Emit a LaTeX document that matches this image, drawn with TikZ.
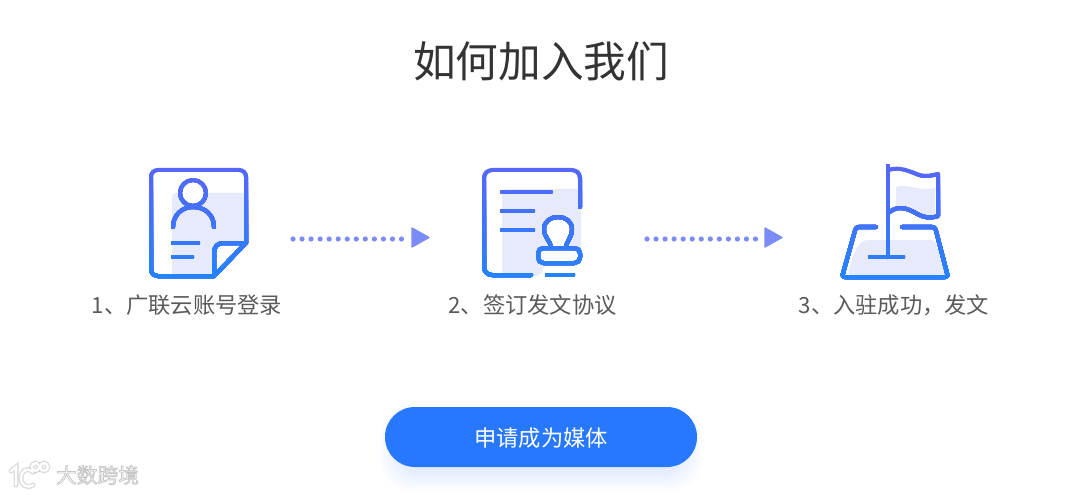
\documentclass[tikz,border=0pt]{standalone}
\usepackage{fontspec}
\setmainfont{Noto Sans CJK SC}
\definecolor{gradtop}{HTML}{5766F7}
\definecolor{gradbot}{HTML}{1F86FF}
\definecolor{softfill}{HTML}{E6EAFB}
\definecolor{dotblue}{HTML}{7B8CF6}
\definecolor{btnblue}{HTML}{2878FF}
\definecolor{labelgray}{HTML}{5A5A5A}
\definecolor{titlegray}{HTML}{333333}
\tikzset{
  x=0.75pt,y=-0.75pt,
  iconline/.style={line width=3pt,line cap=round,line join=round},
  softshape/.style={fill=softfill,draw=none},
  dotline/.style={dotblue,line width=3.9pt,line cap=round,dash pattern=on 0pt off 6.78pt},
  tiphead/.style={fill=dotblue,draw=dotblue,line width=1pt,line join=round},
  steplabel/.style={text=labelgray,font=\fontsize{16.7pt}{19pt}\selectfont,inner sep=0pt,anchor=center},
}
% paints the strokes of an icon with a top-to-bottom gradient, band over band
\newcommand{\gradstrokes}[1]{%
  \foreach \bandno in {0,...,19}{%
    \pgfmathsetmacro{\bandy}{165+\bandno*6}%
    \pgfmathsetmacro{\bandp}{100-\bandno*5}%
    \begin{scope}
      \clip (20,\bandy) rectangle (1000,290);
      \colorlet{bandcol}{gradtop!\bandp!gradbot}
      \begin{scope}[iconline,draw=bandcol]#1\end{scope}
    \end{scope}%
  }%
}
\begin{document}
\begin{tikzpicture}
\useasboundingbox (0,0) rectangle (1080,495);
\fill[white] (0,0) rectangle (1080,495);

\node[text=titlegray,font=\fontsize{32pt}{36pt}\selectfont,inner sep=0pt] (title) at (541,61) {如何加入我们};

% ---------- icon 1
\fill[softshape,rounded corners=3pt] (172,276) -- (172,193) -- (247,193) -- (247,243) -- (214,276) -- cycle;
\fill[white] (247,243) -- (222,243) .. controls (216,243) and (214,247) .. (214,252) -- (214,276) -- cycle;
\fill[white] (193,193) circle (13);
\gradstrokes{
  \draw[rounded corners=5pt] (214,276) -- (151,276) -- (151,170) -- (246,170) -- (246,243);
  \draw (246,243) -- (214,276);
  \draw (246,243) -- (224,243) .. controls (217,243) and (214,247) .. (214,253) -- (214,276);
  \draw (193,193) circle (13);
  \draw (173,227) .. controls (173,215) and (182,207) .. (193,207) .. controls (205,207) and (214,215) .. (214,227);
  \draw (173,243) -- (198,243);
  \draw (173,257) -- (192,257);
}

% ---------- icon 2
\fill[softshape,rounded corners=3pt] (502,276) -- (502,189) -- (581,189) -- (581,262) -- (546,262) -- (540,276) -- cycle;
\fill[white] (551,248) .. controls (551,241) and (544,238) .. (544,229) .. controls (544,221) and (551,217) .. (558,217) .. controls (565,217) and (572,221) .. (572,229) .. controls (572,238) and (566,241) .. (566,248) -- cycle;
\fill[white,rounded corners=4pt] (538,248) rectangle (580,263);
\gradstrokes{
  \draw[rounded corners=6pt] (531,275) -- (484,275) -- (484,170) -- (580,170) -- (580,207);
  \draw (502,192) -- (551,192);
  \draw (502,211) -- (533,211);
  \draw (502,230) -- (533,230);
  \draw[rounded corners=4pt] (538,248) -- (580,248) -- (580,263) -- (538,263) -- cycle;
  \draw (551,248) .. controls (551,241) and (544,238) .. (544,229) .. controls (544,221) and (551,217) .. (558,217) .. controls (565,217) and (572,221) .. (572,229) .. controls (572,238) and (566,241) .. (566,248);
  \draw (547,275) -- (573,275);
}

% ---------- icon 3
\fill[softshape] (896,187) .. controls (905,183) and (922,192) .. (935,188) -- (935,216) .. controls (920,218) and (910,205) .. (896,208) -- cycle;
\fill[softshape,rounded corners=3pt] (847,275) .. controls (852,262) and (855,240) .. (872,240) -- (935,240) -- (946,275) -- cycle;
\gradstrokes{
  \draw (888,165) -- (888,257);
  \draw (870,257) -- (903,257);
  \draw (888,170) .. controls (905,165) and (915,176) .. (925,176) .. controls (930,176) and (934,175) .. (938,174) -- (938,216) .. controls (920,222) and (915,208) .. (900,208) .. controls (895,208) and (891,211) .. (888,213);
  \draw[rounded corners=2pt] (876,227) -- (856,227) -- (842,277) -- (948,277) -- (935,227) -- (902,227);
}

% ---------- connectors
\coordinate (a1) at (293,239); \coordinate (b1) at (404,239);
\coordinate (a2) at (647,239); \coordinate (b2) at (758,239);
\draw[dotline] (a1) -- (b1);
\draw[dotline] (a2) -- (b2);
\filldraw[tiphead] (412,228) -- (429,237.5) -- (412,247) -- cycle;
\filldraw[tiphead] (765,228) -- (782,237.5) -- (765,247) -- cycle;

% ---------- labels
\node[steplabel] (label1) at (187,305) {1、广联云账号登录};
\node[steplabel] (label2) at (532.5,305) {2、签订发文协议};
\node[steplabel] (label3) at (894,305) {3、入驻成功，发文};

% ---------- button
\foreach \g in {15,13,11,9,7,5,3,1}{
  \fill[btnblue,opacity=0.011,rounded corners=22pt] (395-\g,407+14-\g) rectangle (687+\g,467+8+\g);
}
\fill[btnblue,rounded corners=22.4pt] (385,407) rectangle (697,467);
\node[text=white,font=\fontsize{16.7pt}{20pt}\selectfont,inner sep=0pt] (btn) at (541,438) {申请成为媒体};

% ---------- watermark
\begin{scope}[line cap=round]
  \foreach \w/\c/\o in {5/gray/0.28,2.4/white/1}{
    \begin{scope}[draw=\c,opacity=\o,line width=\w*0.75pt]
      \draw (11,471) -- (16,467) -- (16,485);
      \draw (33,472) .. controls (26,466) and (21,472) .. (21,478) .. controls (21,485) and (27,489) .. (33,485);
      \draw (35.5,467) circle (3.8);
      \draw (44,467) circle (3.8);
    \end{scope}
  }
\end{scope}
\node[text=white,inner sep=0pt,font=\fontsize{15.5pt}{18pt}\selectfont] (wm) at (97.5,475) {\special{pdf:code 2 Tr 0.6 w 0.78 G 1 g}大数跨境\special{pdf:code 0 Tr 1 w}};
\end{tikzpicture}
\end{document}
